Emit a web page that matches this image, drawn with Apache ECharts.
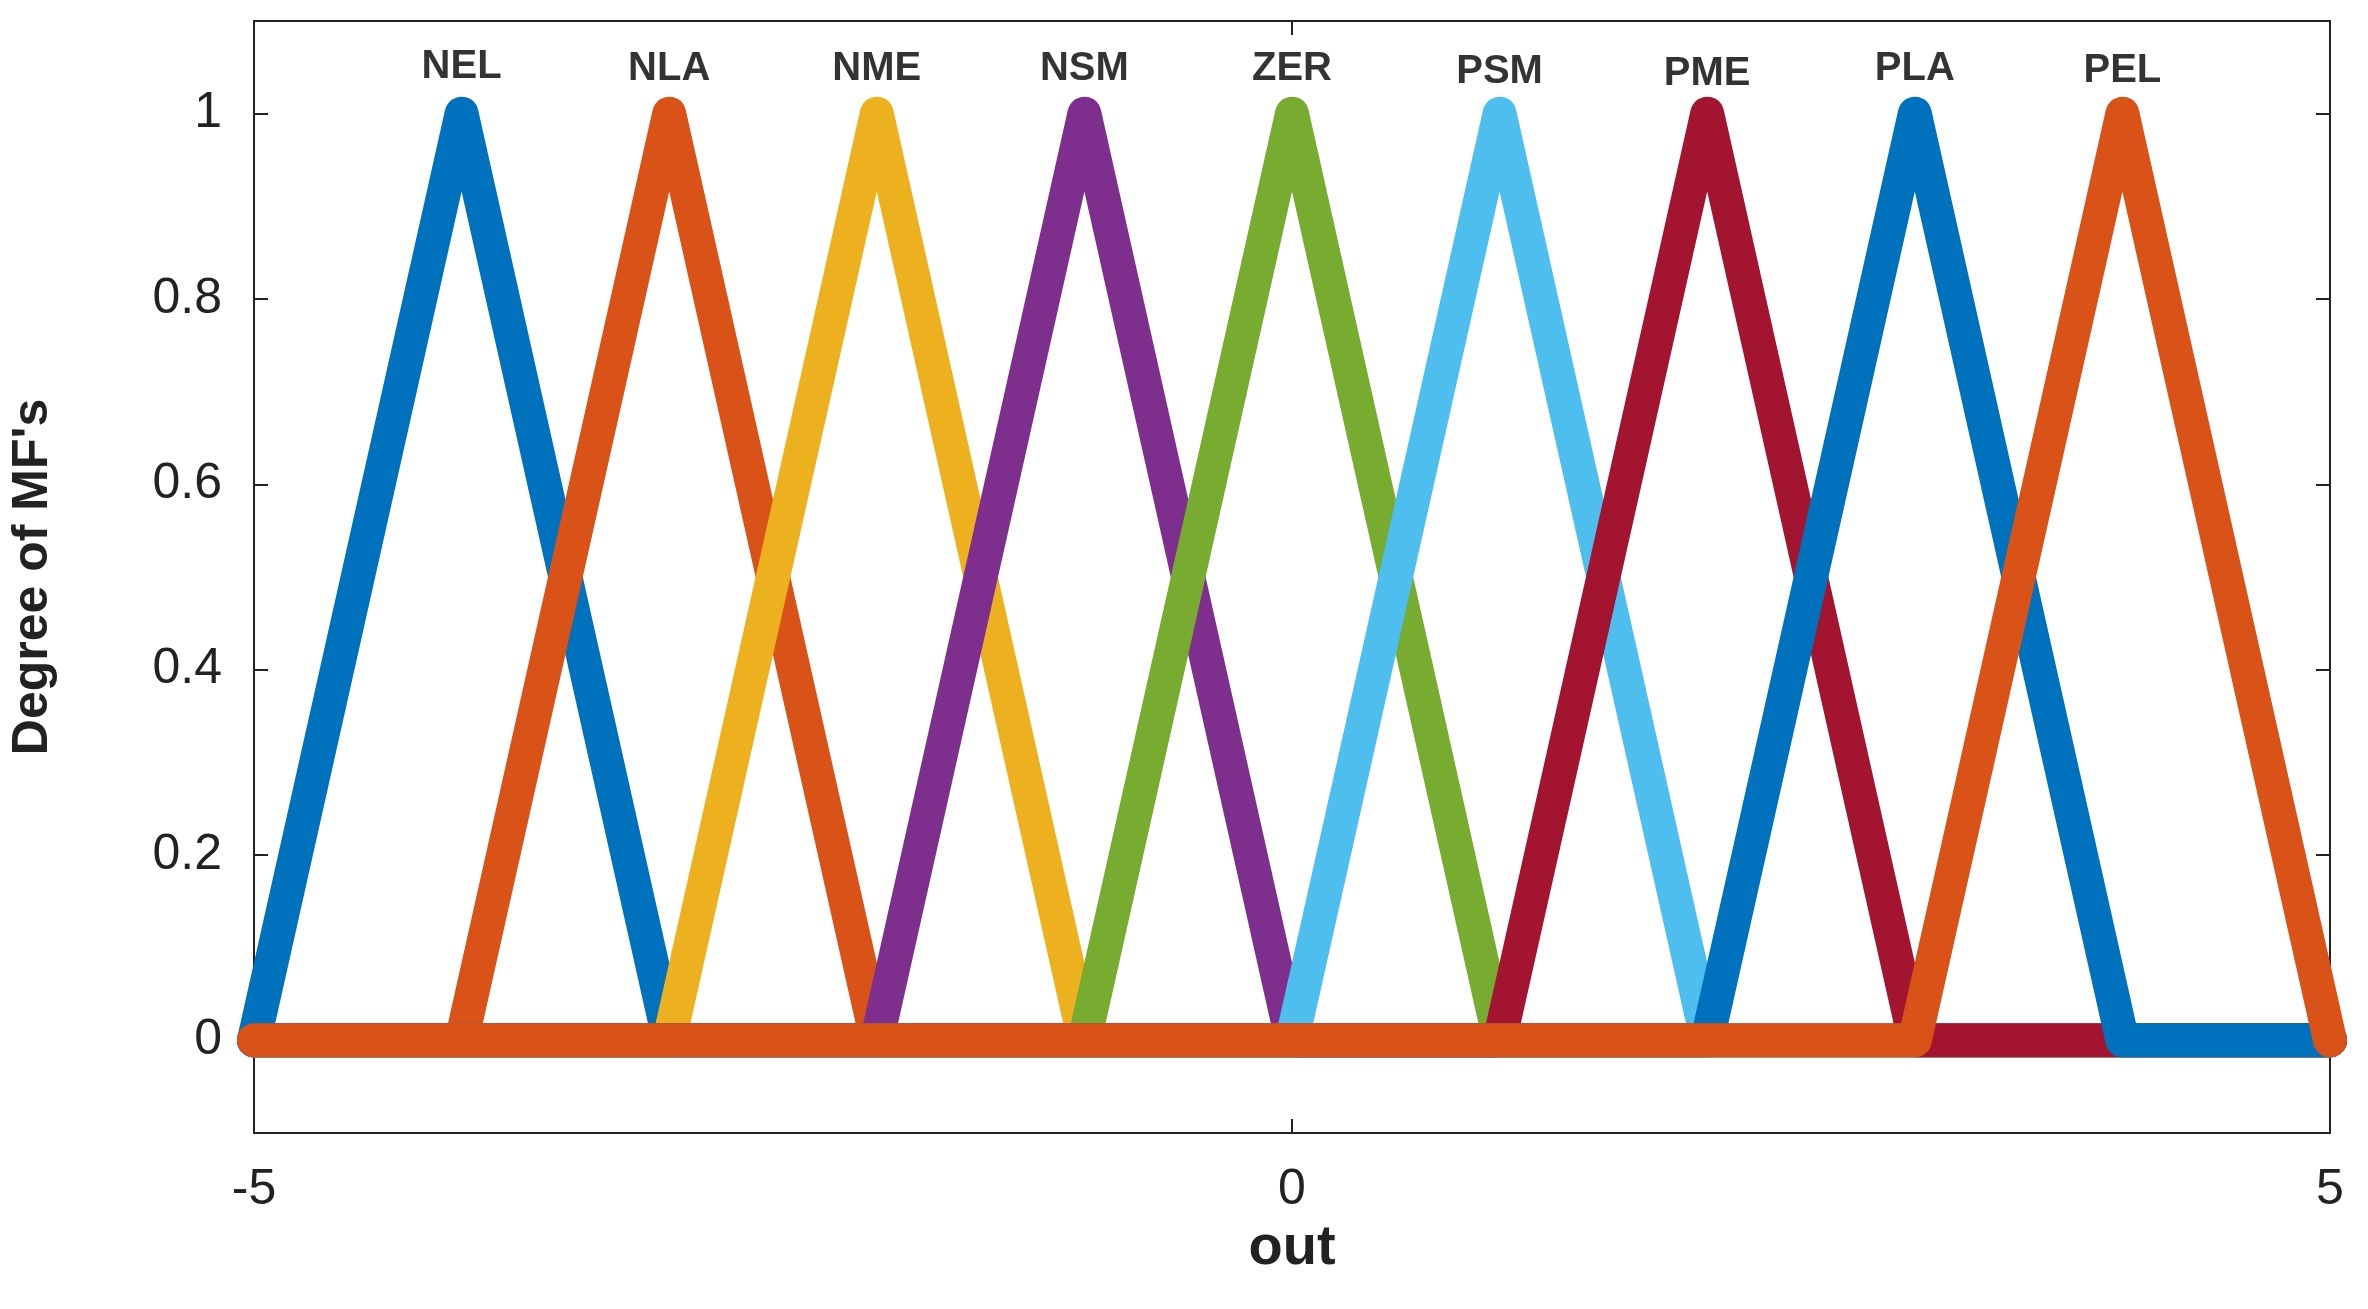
<!DOCTYPE html>
<html><head><meta charset="utf-8">
<script src="https://cdn.jsdelivr.net/npm/echarts@6/dist/echarts.min.js"></script>
<style>html,body{margin:0;background:#fff}#c{width:2368px;height:1309px}</style>
</head><body><div id="c"></div>
<script>
var names = ['NEL', 'NLA', 'NME', 'NSM', 'ZER', 'PSM', 'PME', 'PLA', 'PEL'];
var peaks = [-4, -3, -2, -1, 0, 1, 2, 3, 4];
var labelY = [1.05, 1.048, 1.048, 1.048, 1.048, 1.045, 1.043, 1.048, 1.046];
var colors = ['#0072BD', '#D95319', '#EDB120', '#7E2F8E', '#77AC30', '#4DBEEE', '#A2142F', '#0072BD', '#D95319'];
var yTicks = [0, 0.2, 0.4, 0.6, 0.8, 1];
var xTicks = [-5, 0, 5];

var chart = echarts.init(document.getElementById('c'));

function tri(p) {
  var pts = [];
  if (p - 1 > -5) pts.push([-5, 0]);
  pts.push([Math.max(p - 1, -5), 0]);
  pts.push([p, 1]);
  pts.push([Math.min(p + 1, 5), 0]);
  if (p + 1 < 5) pts.push([5, 0]);
  return pts;
}

var series = names.map(function (n, i) {
  return {
    name: n, type: 'line', data: tri(peaks[i]), symbol: 'none',
    lineStyle: { color: colors[i], width: 34, cap: 'round', join: 'round' },
    z: 2 + i, silent: true
  };
});
series.push({
  type: 'scatter', symbolSize: 0, z: 20, silent: true,
  data: names.map(function (n, i) { return { value: [peaks[i], labelY[i]], name: n }; }),
  label: { show: true, position: 'inside', formatter: '{b}', color: '#000', fontSize: 40, fontWeight: 'bold', fontFamily: 'Liberation Sans' }
});

var tickStyle = { inside: true, length: 14, lineStyle: { color: '#222', width: 2 } };
var lineStyle = { onZero: false, lineStyle: { color: '#222', width: 2 } };
var labelFont = { color: '#222', fontSize: 50, fontFamily: 'Liberation Sans' };

chart.setOption({
  backgroundColor: '#fff',
  animation: false,
  grid: { left: 254, right: 38, top: 21, bottom: 176, show: true, borderColor: '#222', borderWidth: 2 },
  xAxis: [{
    type: 'value', min: -5, max: 5,
    name: 'out', nameLocation: 'middle', nameGap: 88,
    nameTextStyle: { color: '#222', fontSize: 56, fontWeight: 'bold', fontFamily: 'Liberation Sans' },
    axisLine: lineStyle, splitLine: { show: false },
    axisTick: Object.assign({ customValues: xTicks }, tickStyle),
    axisLabel: Object.assign({ customValues: xTicks, margin: 32 }, labelFont)
  }, {
    type: 'value', min: -5, max: 5, position: 'top',
    axisLine: lineStyle, splitLine: { show: false },
    axisTick: Object.assign({ customValues: xTicks }, tickStyle),
    axisLabel: { show: false }
  }],
  yAxis: [{
    type: 'value', min: -0.1, max: 1.1,
    name: "Degree of MF's", nameLocation: 'middle', nameGap: 196,
    nameTextStyle: { color: '#222', fontSize: 50, fontWeight: 'bold', fontFamily: 'Liberation Sans' },
    axisLine: lineStyle, splitLine: { show: false },
    axisTick: Object.assign({ customValues: yTicks }, tickStyle),
    axisLabel: Object.assign({ customValues: yTicks, margin: 32 }, labelFont)
  }, {
    type: 'value', min: -0.1, max: 1.1, position: 'right',
    axisLine: lineStyle, splitLine: { show: false },
    axisTick: Object.assign({ customValues: yTicks }, tickStyle),
    axisLabel: { show: false }
  }],
  series: series
});
</script>
</body></html>
